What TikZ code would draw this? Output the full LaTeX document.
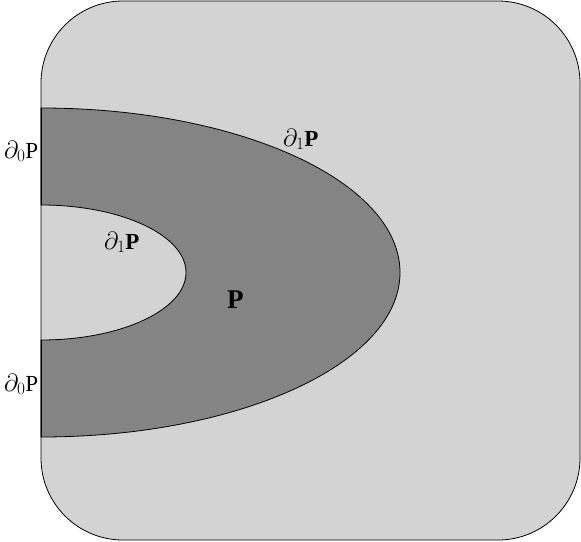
\documentclass[tikz,border=0pt]{standalone}
\usepackage{fontspec}
\setmainfont{Liberation Serif}
\begin{document}
\begin{tikzpicture}[x=1pt,y=-1pt,
  lbl/.style={anchor=base west,inner sep=0pt,font=\fontsize{23}{26}\selectfont},
  biglbl/.style={anchor=base west,inner sep=0pt,font=\fontsize{27}{30}\selectfont\bfseries}]
\useasboundingbox (0,0) rectangle (581,541);
\definecolor{lightg}{RGB}{211,211,211}
\definecolor{darkg}{RGB}{132,132,132}
% outer rounded square
\draw[fill=lightg,line width=0.8pt,rounded corners=82pt] (41,1) rectangle (580,540);
% half annulus
\draw[fill=darkg,line width=0.8pt]
  (41,108) arc[start angle=-90,end angle=90,x radius=359,y radius=164.5]
  -- (41,340) arc[start angle=90,end angle=-90,x radius=145,y radius=67.5] -- cycle;
\draw[line width=0.8pt] (41,108) -- (41,205) (41,340) -- (41,437);
\node[lbl] (a) at (4,158) {$\partial_0$P};
\node[lbl] (b) at (4,391) {$\partial_0$P};
\node[lbl] (c) at (283,146) {$\partial_1$\textbf{P}};
\node[lbl] (d) at (104,249) {$\partial_1$\textbf{P}};
\node[biglbl] (p) at (227,308) {P};
\end{tikzpicture}
\end{document}
